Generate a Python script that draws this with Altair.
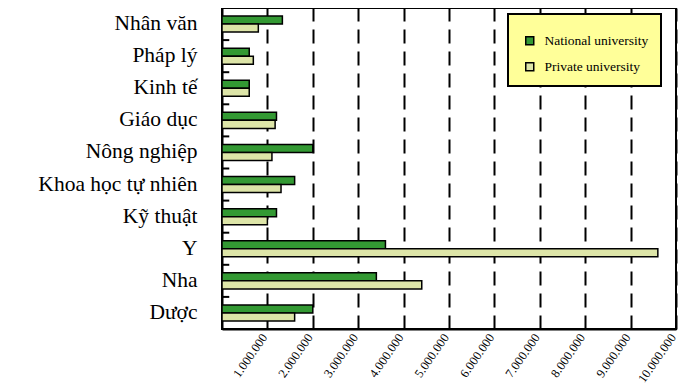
import altair as alt
import pandas as pd

categories = ["Nhân văn", "Pháp lý", "Kinh tế", "Giáo dục", "Nông nghiệp",
              "Khoa học tự nhiên", "Kỹ thuật", "Y", "Nha", "Dược"]
national = [1330000, 600000, 600000, 1200000, 2000000, 1600000, 1200000, 3600000, 3400000, 2000000]
private = [800000, 690000, 600000, 1170000, 1100000, 1300000, 1000000, 9600000, 4400000, 1600000]
series = ["National university", "Private university"]
colors = ["#339933", "#dde5a8"]
x_ticks = [1000000, 2000000, 3000000, 4000000, 5000000, 6000000, 7000000, 8000000, 9000000, 10000000]

SERIF = "'Liberation Serif', 'Times New Roman', 'DejaVu Serif', serif"

rows = []
for c, n, p in zip(categories, national, private):
    rows.append({"cat": c, "series": series[0], "value": n})
    rows.append({"cat": c, "series": series[1], "value": p})
df = pd.DataFrame(rows)

label_expr = "replace(replace(format(datum.value, ','), ',', '.'), ',', '.')"

bars = alt.Chart(df).mark_bar(stroke="black", strokeWidth=1.5).encode(
    y=alt.Y("cat:N", sort=categories,
            scale=alt.Scale(paddingInner=0.5, paddingOuter=0.25),
            axis=alt.Axis(title=None, ticks=False, labelFont=SERIF,
                          labelFontSize=21.5, labelColor="black", labelPadding=25,
                          domainColor="black", domainWidth=2)),
    x=alt.X("value:Q", scale=alt.Scale(domain=[0, 10000000], nice=False),
            axis=alt.Axis(title=None, values=x_ticks, ticks=False, grid=True,
                          gridColor="black", gridDash=[14, 8], gridWidth=2,
                          gridOpacity=1,
                          labelAngle=-55, labelAlign="right", labelBaseline="alphabetic",
                          labelFont=SERIF, labelFontSize=12.5,
                          labelColor="black", labelExpr=label_expr, labelPadding=8,
                          domainColor="black", domainWidth=2)),
    yOffset=alt.YOffset("series:N", sort=series),
    color=alt.Color("series:N", scale=alt.Scale(domain=series, range=colors),
                    legend=alt.Legend(title=" ", titleFontSize=4, titlePadding=4,
                                      orient="none", legendX=286, legendY=6,
                                      fillColor="#FFFF99", strokeColor="black",
                                      padding=12, rowPadding=11, symbolType="square",
                                      symbolSize=64, symbolStrokeColor="black",
                                      symbolStrokeWidth=1.5, symbolOffset=3,
                                      labelFont=SERIF,
                                      labelFontSize=13.5, labelColor="black", labelOffset=8)),
)

tick_df = pd.DataFrame({"cat": categories[1:]})
ticks = alt.Chart(tick_df).mark_rule(color="black", strokeWidth=2).encode(
    y=alt.Y("cat:N", bandPosition=0,
            scale=alt.Scale(type="band", domain=categories, paddingInner=0, paddingOuter=0),
            axis=None),
    x=alt.datum(0),
    x2=alt.datum(160000),
)

chart = alt.layer(bars, ticks).resolve_scale(y="independent").properties(
    width=454, height=321,
    autosize=alt.AutoSizeParams(type="none"),
    padding={"left": 214, "top": 0, "right": 16, "bottom": 55},
).configure_view(stroke="black", strokeWidth=2).configure_legend(strokeWidth=2)

chart.save("out.html", embed_options={"renderer": "svg", "actions": False})
